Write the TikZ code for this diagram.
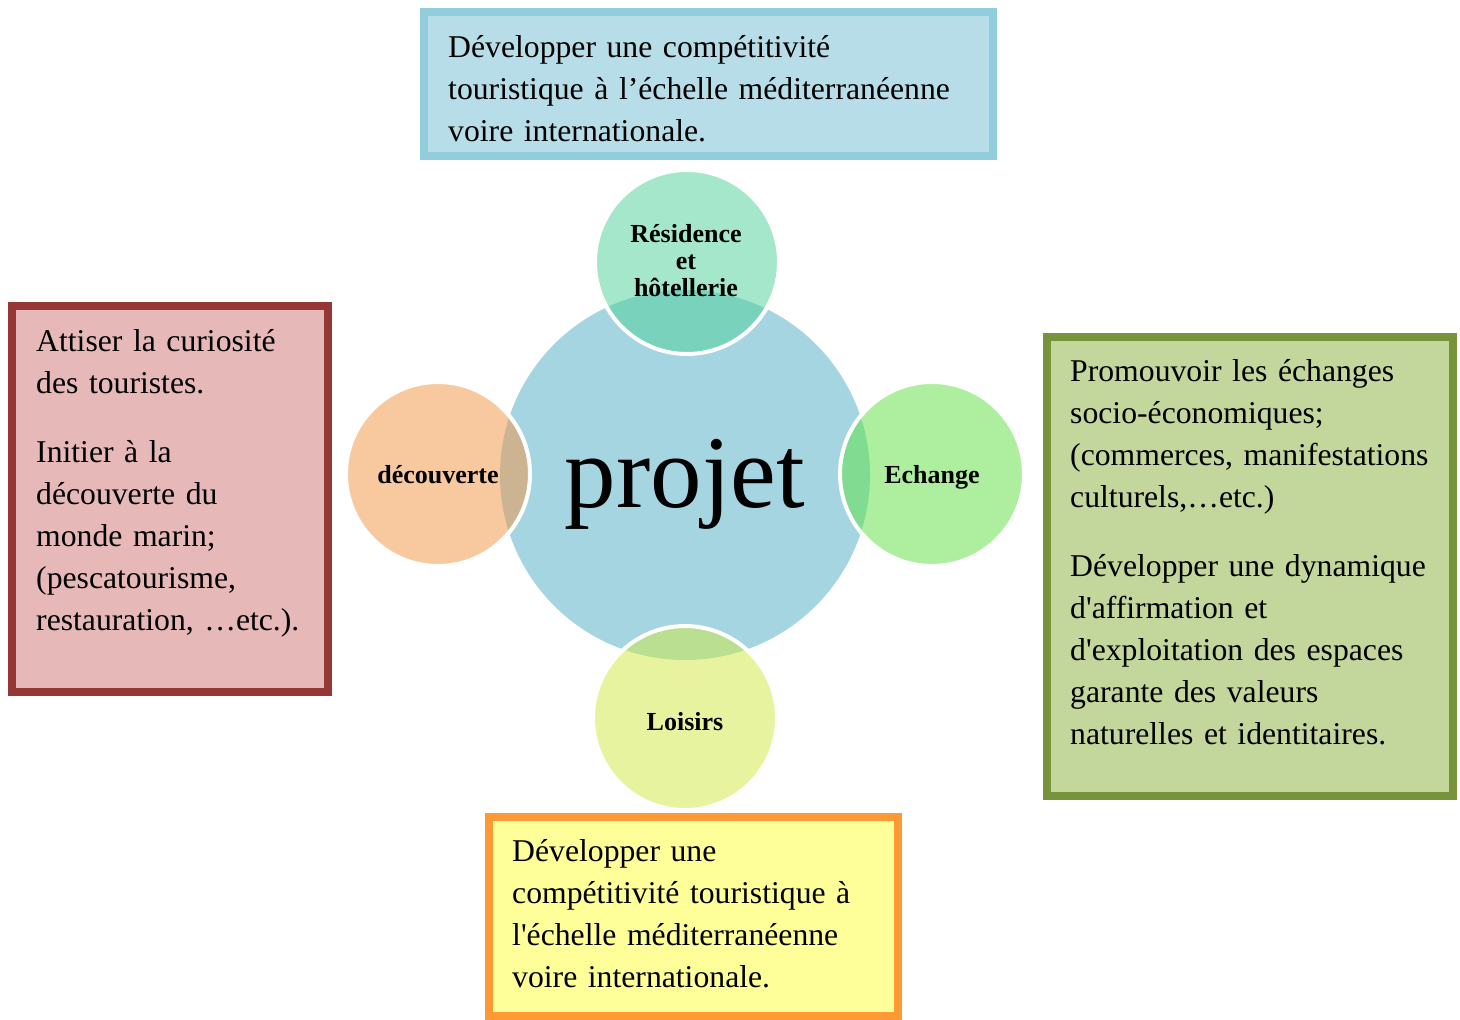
\documentclass[tikz,border=0pt]{standalone}
\usepackage{fontspec}
\setmainfont{Liberation Serif}[Ligatures=TeXOff]
\definecolor{cCenter}{RGB}{166,213,226}
\definecolor{cTop}{RGB}{75,209,151}
\definecolor{cLeft}{RGB}{243,147,65}
\definecolor{cRight}{RGB}{93,225,65}
\definecolor{cBottom}{RGB}{209,233,65}
\definecolor{bTopD}{RGB}{146,205,220}
\definecolor{bTopF}{RGB}{183,222,232}
\definecolor{bLeftD}{RGB}{149,55,53}
\definecolor{bLeftF}{RGB}{230,185,184}
\definecolor{bRightD}{RGB}{119,147,60}
\definecolor{bRightF}{RGB}{195,214,155}
\definecolor{bBotD}{RGB}{255,153,51}
\definecolor{bBotF}{RGB}{255,255,153}
\tikzset{
  sat/.style={circle, minimum size=184pt, inner sep=0pt, draw=white, line width=4pt,
    fill opacity=0.5, text opacity=1},
  satlabel/.style={anchor=base, inner sep=0pt, align=center,
    font=\bfseries\fontsize{26}{27}\selectfont},
  infobox/.style={line width=8pt},
  boxtext/.style={anchor=base west, inner sep=0pt, text width=600pt, align=left,
    font=\fontsize{31.7}{42}\selectfont}
}
\begin{document}
\begin{tikzpicture}[x=1pt,y=-1pt]
\useasboundingbox (0,0) rectangle (1460,1020);
\fill[white] (0,0) rectangle (1460,1020);
% central circle
\node[circle, minimum size=370pt, inner sep=0pt, fill=cCenter] (centre) at (685,475) {};
\node[anchor=base, inner sep=0pt, font=\fontsize{103}{110}\selectfont] (projet) at (685,507) {projet};
% satellites
\node[sat, fill=cTop] (res) at (687,262) {};
\node[sat, fill=cLeft] (dec) at (438,474) {};
\node[sat, fill=cRight] (ech) at (932,474) {};
\node[sat, fill=cBottom] (loi) at (685,718) {};
\node[satlabel] (resT) at (686,296) {Résidence\\et\\hôtellerie};
\node[satlabel] (decT) at (438,483) {découverte};
\node[satlabel] (echT) at (932,483) {Echange};
\node[satlabel] (loiT) at (685,730) {Loisirs};
% boxes
\draw[infobox, draw=bTopD, fill=bTopF] (424,12) rectangle (993,156);
\node[boxtext] (tTop) at (448,57) {Développer une compétitivité\\touristique à l’échelle méditerranéenne\\voire internationale.};
\draw[infobox, draw=bLeftD, fill=bLeftF] (12,306) rectangle (328,692);
\node[boxtext] (tLeft) at (36,351) {Attiser la curiosité\\des touristes.\\[27pt]Initier à la\\découverte du\\monde marin;\\(pescatourisme,\\restauration, …etc.).};
\draw[infobox, draw=bRightD, fill=bRightF] (1047,337) rectangle (1453,796);
\node[boxtext] (tRight) at (1070,381) {Promouvoir les échanges\\socio-économiques;\\(commerces, manifestations\\culturels,…etc.)\\[27pt]Développer une dynamique\\d'affirmation et\\d'exploitation des espaces\\garante des valeurs\\naturelles et identitaires.};
\draw[infobox, draw=bBotD, fill=bBotF] (489,817) rectangle (898,1016);
\node[boxtext] (tBot) at (512,861) {Développer une\\compétitivité touristique à\\l'échelle méditerranéenne\\voire internationale.};
\end{tikzpicture}
\end{document}
